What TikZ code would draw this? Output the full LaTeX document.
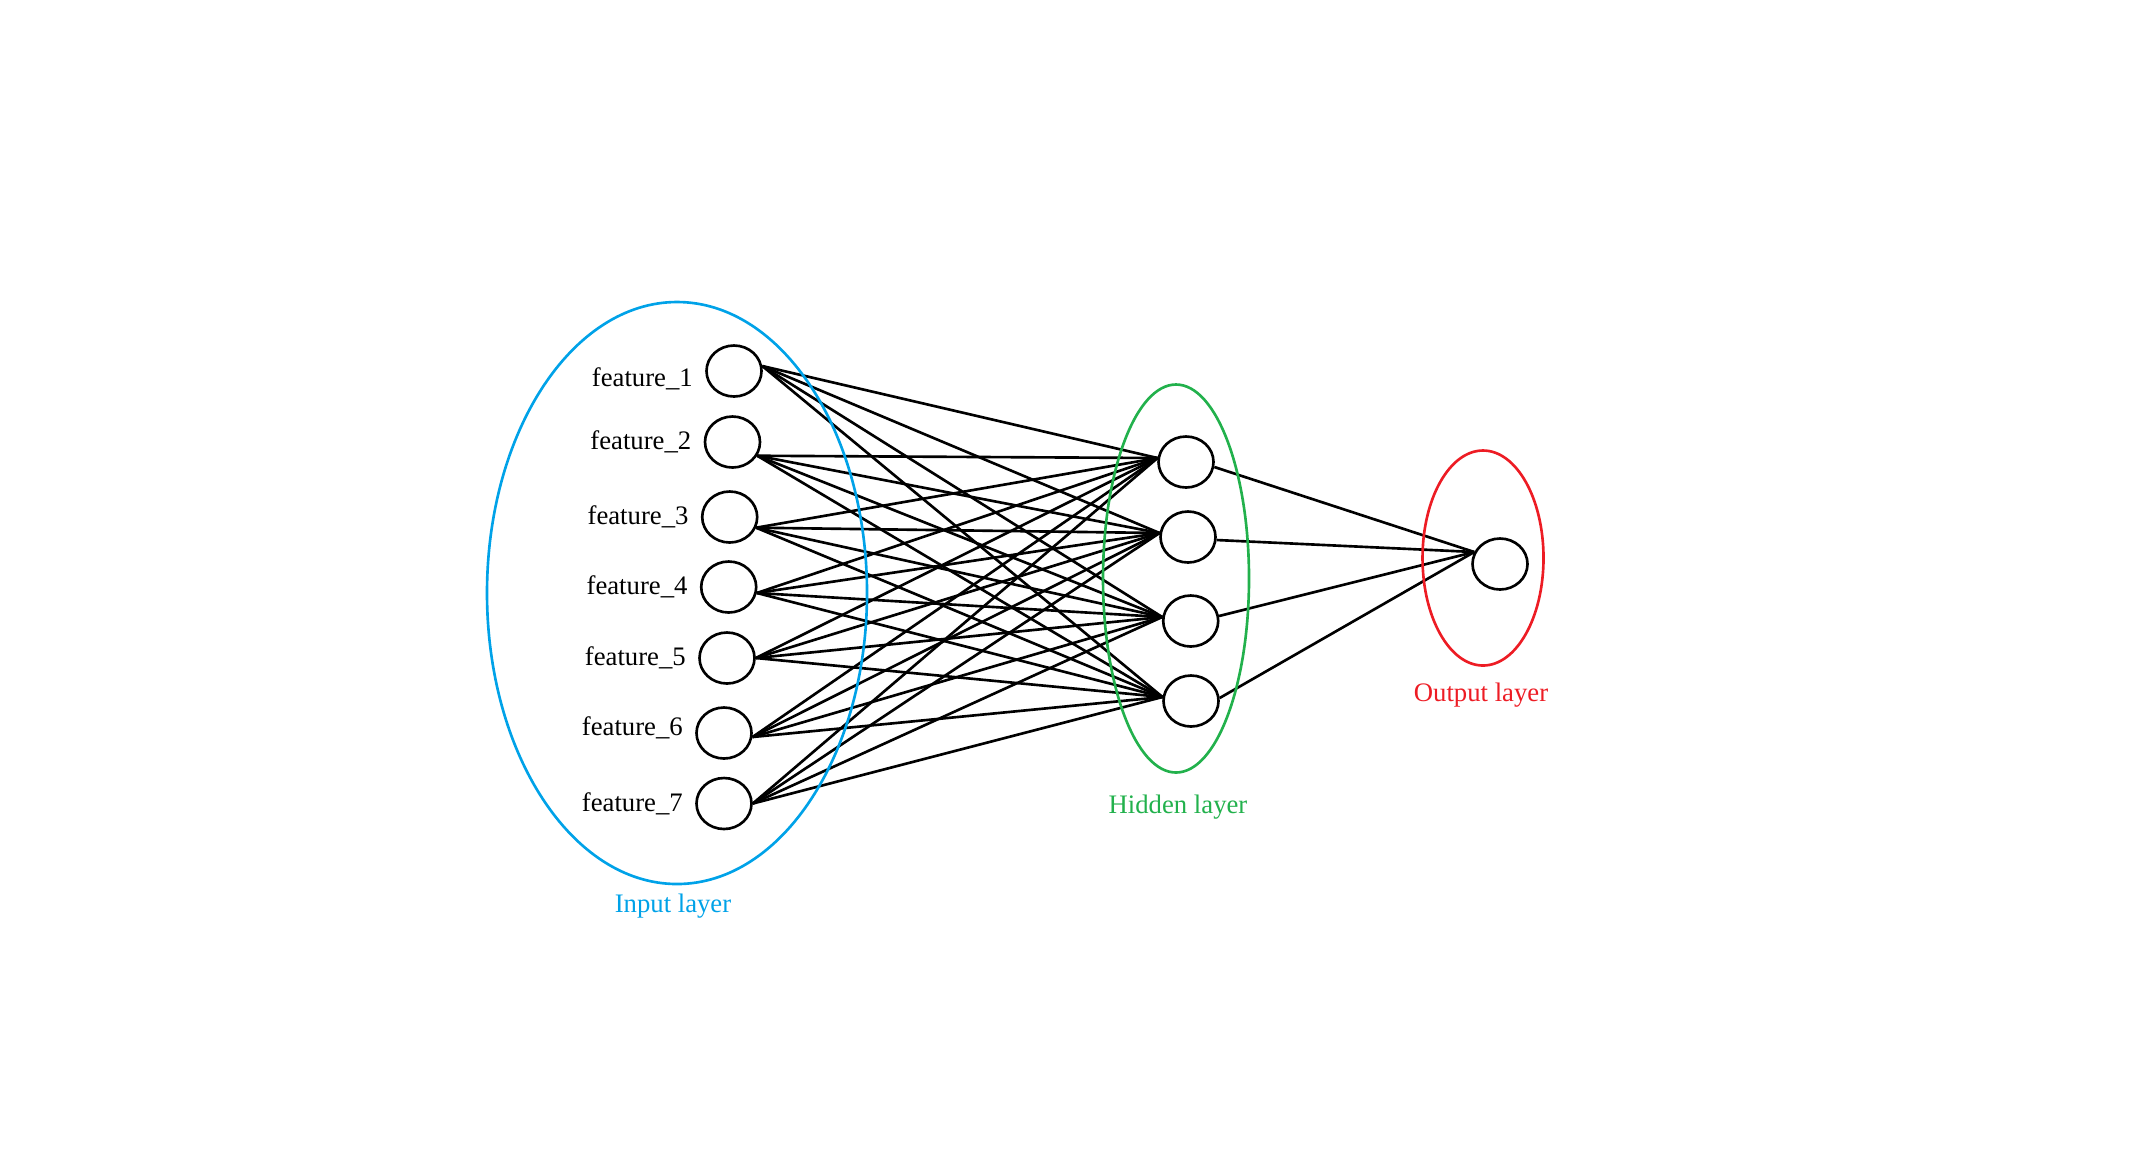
\documentclass[tikz,border=0pt]{standalone}
\usepackage{fontspec}
\setmainfont{Liberation Serif}
\usepackage{tikz}
\usetikzlibrary{shapes.geometric}
\definecolor{inblue}{RGB}{0,162,232}
\definecolor{hidgreen}{RGB}{34,177,76}
\definecolor{outred}{RGB}{237,28,36}
\tikzset{neuron/.style={draw,ellipse,line width=0.75pt,minimum width=0.55cm,minimum height=0.51cm,inner sep=0pt},
         layer/.style={line width=0.75pt}}

\begin{document}
\begin{tikzpicture}[font=\fontsize{7.6}{9}\selectfont,label distance=0cm]%,>=latex]
                                \useasboundingbox (0,0) rectangle (21.43,-11.71);

                                \node [neuron,label={[yshift=-0.8mm]left:feature\_1}] (f1) at (7.34,-3.71) {};
                                \node [neuron,label=left:feature\_2] (f2) at (7.325,-4.42) {};
                                \node [neuron,label=left:feature\_3] (f3) at (7.297,-5.17) {};
                                \node [neuron,label=left:feature\_4] (f4) at (7.287,-5.87) {};
                                \node [neuron,label=left:feature\_5] (f5) at (7.27,-6.58) {};
                                \node [neuron,label={[yshift=0.5mm]left:feature\_6}] (f6) at (7.24,-7.33) {};
                                \node [neuron,label=left:feature\_7] (f7) at (7.24,-8.035) {};

                                \node [neuron] (h1) at (11.86,-4.62) {};
                                \node [neuron] (h2) at (11.88,-5.37) {};
                                \node [neuron] (h3) at (11.907,-6.21) {};
                                \node [neuron] (h4) at (11.91,-7.01) {};

                                \node [neuron] (out) at (15.00,-5.64) {};

                                \foreach \i/\a in {1/10,2/-29,3/-22,4/-12,5/0,6/-8,7/0}
                                    \foreach \j in {1,...,4}
                                        \draw [layer] (f\i.\a) -- (h\j.172);
                                \foreach \j/\b in {1/-10,2/-6,3/10,4/6}
                                    \draw [layer] (h\j.\b) -- (out.155);

                                \draw [layer,inblue] (6.77,-5.93) ellipse (1.90cm and 2.91cm);
                                \draw [layer,hidgreen] (11.76,-5.785) ellipse (0.73cm and 1.94cm);
                                \draw [layer,outred] (14.83,-5.58) ellipse (0.605cm and 1.075cm);

                                \node [inblue,anchor=base] (inlabel) at (6.73,-9.12) {Input layer};
                                \node [hidgreen,anchor=base] (hidlabel) at (11.78,-8.13) {Hidden layer};
                                \node [outred,anchor=base] (outlabel) at (14.81,-7.017) {Output layer};
                            \end{tikzpicture}
\end{document}
